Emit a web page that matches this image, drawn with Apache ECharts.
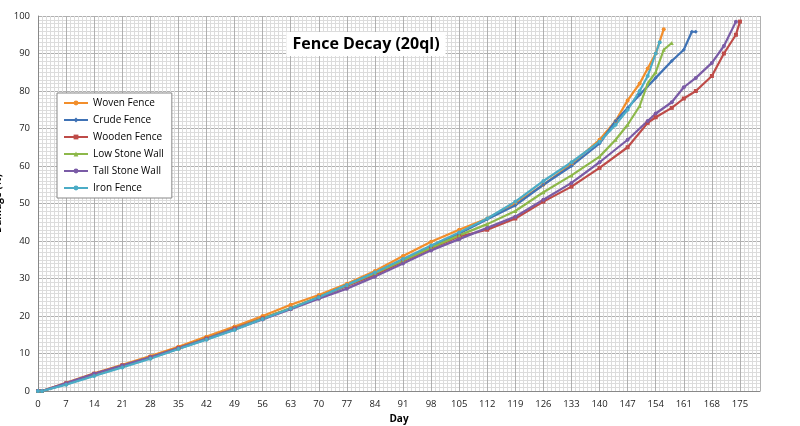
<!DOCTYPE html>
<html><head><meta charset="utf-8">
<script src="https://cdn.jsdelivr.net/npm/echarts@6/dist/echarts.min.js"></script>
<style>html,body{margin:0;padding:0;background:#fff}#c{width:800px;height:426px}</style>
</head><body><div id="c"></div>
<script>
const seriesNames = ["Woven Fence","Crude Fence","Wooden Fence","Low Stone Wall","Tall Stone Wall","Iron Fence"];
const colors = ["#F28E2B","#3F72B5","#BE4B48","#8DB84A","#7A5BA6","#4BACC6"];
const xTicks = [0,7,14,21,28,35,42,49,56,63,70,77,84,91,98,105,112,119,126,133,140,147,154,161,168,175];
const baseDays = [0,1,7,14,21,28,35,42,49,56,63,70,77,84,91,98,105,112];
const wovenDays = baseDays.concat([119,126,133,140,144,147,150,152,154,156]);
const wovenVals = [0,0,2.2,4.7,7,9.3,11.8,14.5,17.2,20,23,25.6,28.6,32,36,39.8,43,46,50,55,60.5,67,72,77.5,82,86,90,96.5];
const crudeDays = baseDays.concat([119,126,133,140,144,147,150,154,158,161,163,164]);
const crudeVals = [0,0,1.8,4.2,6.5,8.8,11.3,13.8,16.5,19.3,22,25,28.2,31.5,35,38.6,42,45.8,49.5,55,60,66,72,75.5,79,83.5,88,91,95.8,95.8];
const woodenDays = baseDays.concat([119,126,133,140,147,152,154,158,161,164,168,171,174,175]);
const woodenVals = [0,0,2,4.6,6.8,9,11.5,14,16.7,19.4,22,25,28,31,34.5,38,41.2,43,46,50.5,54.5,59.5,65,71.5,73,75.5,78,80,84,90,95,98.5];
const lowDays = baseDays.concat([119,126,133,140,144,147,150,152,154,156,158]);
const lowVals = [0,0,1.9,4.4,6.7,9,11.4,14,16.6,19.3,22.1,25,28.2,31.4,34.8,38.2,41.5,44.5,48,53,57.5,62.5,67,71,76,82,85,91,92.8];
const tallDays = baseDays.concat([119,126,133,140,147,152,154,158,161,164,168,171,174]);
const tallVals = [0,0,2.1,4.6,6.8,9,11.4,13.9,16.5,19.1,21.8,24.6,27.3,30.5,34,37.5,40.5,43.5,46.5,51,55.5,61,67,72,74,77,81,83.5,87.5,92,98.5];
const ironDays = baseDays.concat([119,126,133,140,144,147,150,152,154,155]);
const ironVals = [0,0,1.7,4,6.3,8.6,11.2,13.7,16.3,19.2,22,25,28.3,31.6,35.2,38.8,42.3,46,50.5,56,61,66.5,71,75,80,84,90,93];
const allDays = [wovenDays,crudeDays,woodenDays,lowDays,tallDays,ironDays];
const allVals = [wovenVals,crudeVals,woodenVals,lowVals,tallVals,ironVals];
const symbols = ["circle","diamond","rect","triangle","circle","circle"];

const chart = echarts.init(document.getElementById('c'));
chart.setOption({
  animation:false,
  color:colors,
  title:{text:"Fence Decay (20ql)",left:360,top:32,textAlign:'center',backgroundColor:'#fff',padding:[4,6],
    textStyle:{fontFamily:'Open Sans',fontWeight:'bold',fontSize:16,color:'#000'}},
  legend:{orient:'vertical',left:57,top:93,width:99,itemGap:7,itemWidth:24,itemHeight:6,
    backgroundColor:'#fff',borderColor:'#888',borderWidth:1,padding:[5,8,5,6],
    textStyle:{fontFamily:'Open Sans',fontSize:10,color:'#000'},data:seriesNames},
  grid:{left:38,right:40,top:16,bottom:35,containLabel:false,outerBoundsMode:'none'},
  xAxis:{type:'value',min:0,max:180,interval:7,name:'Day',nameLocation:'middle',nameGap:22,
    nameTextStyle:{fontFamily:'Open Sans',fontWeight:'bold',fontSize:10,color:'#000'},
    axisLine:{lineStyle:{color:'#888'}},axisTick:{show:false},
    axisLabel:{fontFamily:'Open Sans',fontSize:9.5,color:'#222',showMaxLabel:false},
    splitLine:{lineStyle:{color:'#b0b0b0',width:1}},
    minorTick:{show:false,splitNumber:7},minorSplitLine:{show:true,lineStyle:{color:'#dcdcdc'}}},
  yAxis:{type:'value',min:0,max:100,interval:10,name:'Damage (%)',nameLocation:'middle',nameGap:24,
    nameTextStyle:{fontFamily:'Open Sans',fontWeight:'bold',fontSize:10,color:'#000'},
    axisLine:{show:true,lineStyle:{color:'#888'}},axisTick:{show:false},
    axisLabel:{fontFamily:'Open Sans',fontSize:9.5,color:'#222'},
    splitLine:{lineStyle:{color:'#b0b0b0'}},
    minorTick:{show:false,splitNumber:10},minorSplitLine:{show:true,lineStyle:{color:'#dcdcdc'}}},
  series:seriesNames.map((n,i)=>({name:n,type:'line',symbol:symbols[i],symbolSize:4,
    lineStyle:{width:2.2},data:allDays[i].map((d,j)=>[d,allVals[i][j]])}))
});
</script></body></html>
